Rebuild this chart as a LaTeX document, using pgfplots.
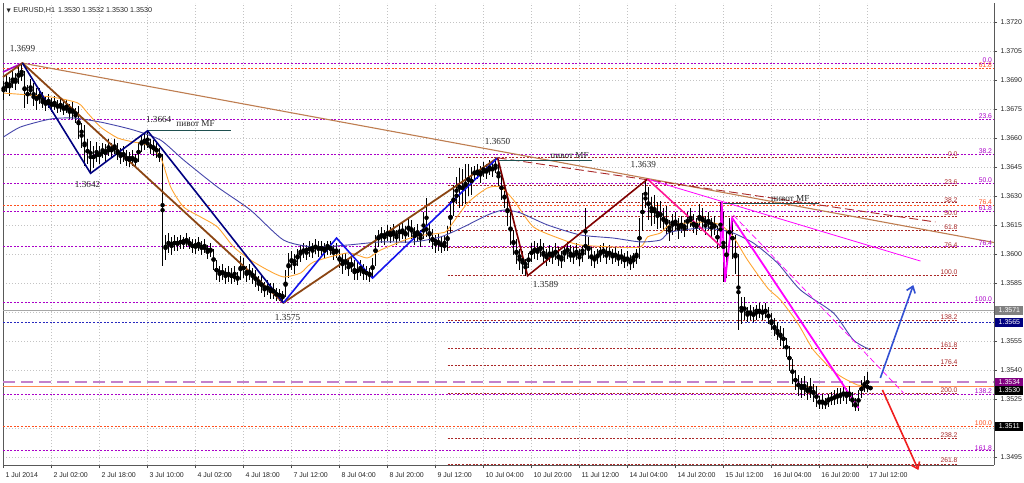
\documentclass[border=0pt]{standalone}
\usepackage{fontspec}
\setmainfont{Liberation Sans}
\newfontfamily\serifnum{Liberation Serif}
\newfontfamily\dejavu{DejaVu Sans}
\usepackage{pgfplots}
\pgfplotsset{compat=1.18}
\usepackage{pgfplotstable}
\usetikzlibrary{arrows.meta}

\definecolor{fibP}{RGB}{170,0,200}
\definecolor{fibO}{RGB}{255,80,30}
\definecolor{fibB}{RGB}{170,40,40}
\definecolor{zzBrown}{RGB}{139,69,19}
\definecolor{trendBrown}{RGB}{190,125,80}
\definecolor{zzNavy}{RGB}{0,0,128}
\definecolor{zzBlue}{RGB}{20,20,235}
\definecolor{zzMaroon}{RGB}{128,0,0}
\definecolor{zzPink}{RGB}{255,20,147}
\definecolor{mag}{RGB}{255,0,255}
\definecolor{maOrange}{RGB}{255,165,50}
\definecolor{maBlue}{RGB}{70,70,170}
\definecolor{pivot}{RGB}{30,80,80}
\definecolor{gridc}{RGB}{195,195,195}
\definecolor{dashPurple}{RGB}{195,130,205}
\definecolor{bidOrange}{RGB}{255,140,80}
\definecolor{arrBlue}{RGB}{50,80,210}
\definecolor{arrRed}{RGB}{240,30,30}
\definecolor{boxPurple}{RGB}{128,0,128}
\definecolor{dotBlue}{RGB}{40,40,190}

\pgfplotstableread{
x o h l c
0 1.3684 1.3690 1.3680 1.3688
1 1.3688 1.3693 1.3684 1.3686
2 1.3686 1.3692 1.3682 1.3690
3 1.3690 1.3695 1.3686 1.3689
4 1.3689 1.3694 1.3685 1.3692
5 1.3692 1.3697 1.3688 1.3694
6 1.3694 1.3699 1.3690 1.3692
7 1.3692 1.3695 1.3676 1.3680
8 1.3680 1.3688 1.3678 1.3686
9 1.3686 1.3691 1.3682 1.3684
10 1.3684 1.3689 1.3677 1.3679
11 1.3679 1.3686 1.3675 1.3683
12 1.3683 1.3686 1.3678 1.3680
13 1.3680 1.3684 1.3676 1.3678
14 1.3678 1.3682 1.3674 1.3680
15 1.3680 1.3683 1.3676 1.3677
16 1.3677 1.3681 1.3674 1.3679
17 1.3679 1.3682 1.3675 1.3676
18 1.3676 1.3680 1.3673 1.3678
19 1.3678 1.3681 1.3674 1.3675
20 1.3675 1.3679 1.3672 1.3677
21 1.3677 1.3680 1.3673 1.3674
22 1.3674 1.3678 1.3670 1.3676
23 1.3676 1.3679 1.3670 1.3672
24 1.3672 1.3676 1.3668 1.3674
25 1.3674 1.3677 1.3660 1.3662
26 1.3662 1.3668 1.3655 1.3665
27 1.3665 1.3667 1.3646 1.3650
28 1.3650 1.3660 1.3647 1.3657
29 1.3657 1.3659 1.3642 1.3648
30 1.3648 1.3656 1.3645 1.3653
31 1.3653 1.3658 1.3648 1.3650
32 1.3650 1.3656 1.3647 1.3654
33 1.3654 1.3658 1.3650 1.3652
34 1.3652 1.3657 1.3648 1.3655
35 1.3655 1.3660 1.3651 1.3653
36 1.3653 1.3658 1.3650 1.3656
37 1.3656 1.3660 1.3652 1.3654
38 1.3654 1.3658 1.3649 1.3651
39 1.3651 1.3655 1.3647 1.3653
40 1.3653 1.3656 1.3648 1.3650
41 1.3650 1.3654 1.3646 1.3649
42 1.3649 1.3653 1.3645 1.3651
43 1.3651 1.3654 1.3646 1.3648
44 1.3648 1.3652 1.3645 1.3650
45 1.3650 1.3658 1.3648 1.3656
46 1.3656 1.3662 1.3653 1.3660
47 1.3660 1.3663 1.3654 1.3658
48 1.3658 1.3664 1.3655 1.3657
49 1.3657 1.3660 1.3652 1.3655
50 1.3655 1.3659 1.3651 1.3656
51 1.3656 1.3658 1.3650 1.3652
52 1.3652 1.3655 1.3648 1.3650
53 1.3650 1.3652 1.3594 1.3601
54 1.3601 1.3610 1.3597 1.3607
55 1.3607 1.3611 1.3601 1.3604
56 1.3604 1.3609 1.3600 1.3607
57 1.3607 1.3610 1.3602 1.3605
58 1.3605 1.3609 1.3602 1.3607
59 1.3607 1.3610 1.3603 1.3606
60 1.3606 1.3609 1.3603 1.3608
61 1.3608 1.3611 1.3604 1.3606
62 1.3606 1.3609 1.3603 1.3605
63 1.3605 1.3608 1.3601 1.3604
64 1.3604 1.3608 1.3600 1.3606
65 1.3606 1.3609 1.3602 1.3603
66 1.3603 1.3607 1.3600 1.3605
67 1.3605 1.3608 1.3601 1.3602
68 1.3602 1.3605 1.3598 1.3603
69 1.3603 1.3606 1.3599 1.3601
70 1.3601 1.3603 1.3592 1.3594
71 1.3594 1.3597 1.3587 1.3590
72 1.3590 1.3594 1.3586 1.3592
73 1.3592 1.3595 1.3587 1.3589
74 1.3589 1.3593 1.3585 1.3591
75 1.3591 1.3594 1.3586 1.3588
76 1.3588 1.3593 1.3585 1.3590
77 1.3590 1.3594 1.3586 1.3587
78 1.3587 1.3591 1.3584 1.3589
79 1.3589 1.3599 1.3587 1.3596
80 1.3596 1.3598 1.3588 1.3590
81 1.3590 1.3594 1.3586 1.3592
82 1.3592 1.3595 1.3587 1.3589
83 1.3589 1.3593 1.3585 1.3590
84 1.3590 1.3592 1.3583 1.3585
85 1.3585 1.3589 1.3581 1.3587
86 1.3587 1.3589 1.3580 1.3582
87 1.3582 1.3586 1.3578 1.3584
88 1.3584 1.3587 1.3579 1.3581
89 1.3581 1.3585 1.3577 1.3583
90 1.3583 1.3585 1.3577 1.3579
91 1.3579 1.3583 1.3576 1.3580
92 1.3580 1.3582 1.3576 1.3578
93 1.3578 1.3581 1.3575 1.3579
94 1.3579 1.3592 1.3578 1.3590
95 1.3590 1.3601 1.3588 1.3598
96 1.3598 1.3602 1.3592 1.3595
97 1.3595 1.3600 1.3590 1.3598
98 1.3598 1.3603 1.3594 1.3600
99 1.3600 1.3605 1.3596 1.3603
100 1.3603 1.3606 1.3598 1.3601
101 1.3601 1.3605 1.3597 1.3604
102 1.3604 1.3607 1.3599 1.3602
103 1.3602 1.3606 1.3598 1.3605
104 1.3605 1.3608 1.3600 1.3603
105 1.3603 1.3607 1.3599 1.3604
106 1.3604 1.3607 1.3600 1.3602
107 1.3602 1.3606 1.3598 1.3604
108 1.3604 1.3607 1.3600 1.3605
109 1.3605 1.3607 1.3600 1.3601
110 1.3601 1.3605 1.3597 1.3603
111 1.3603 1.3606 1.3598 1.3600
112 1.3600 1.3603 1.3593 1.3595
113 1.3595 1.3600 1.3590 1.3598
114 1.3598 1.3601 1.3592 1.3594
115 1.3594 1.3598 1.3589 1.3596
116 1.3596 1.3599 1.3591 1.3593
117 1.3593 1.3597 1.3587 1.3589
118 1.3589 1.3596 1.3587 1.3594
119 1.3594 1.3597 1.3589 1.3591
120 1.3591 1.3595 1.3587 1.3592
121 1.3592 1.3594 1.3587 1.3589
122 1.3589 1.3593 1.3586 1.3591
123 1.3591 1.3598 1.3588 1.3596
124 1.3596 1.3610 1.3594 1.3608
125 1.3608 1.3613 1.3604 1.3610
126 1.3610 1.3614 1.3606 1.3609
127 1.3609 1.3613 1.3605 1.3611
128 1.3611 1.3615 1.3607 1.3610
129 1.3610 1.3614 1.3606 1.3612
130 1.3612 1.3616 1.3607 1.3609
131 1.3609 1.3613 1.3605 1.3611
132 1.3611 1.3616 1.3607 1.3613
133 1.3613 1.3617 1.3608 1.3610
134 1.3610 1.3615 1.3606 1.3612
135 1.3612 1.3619 1.3609 1.3615
136 1.3615 1.3618 1.3608 1.3610
137 1.3610 1.3614 1.3605 1.3612
138 1.3612 1.3616 1.3607 1.3609
139 1.3609 1.3613 1.3604 1.3611
140 1.3611 1.3622 1.3608 1.3614
141 1.3614 1.3629 1.3609 1.3612
142 1.3612 1.3616 1.3606 1.3609
143 1.3609 1.3613 1.3603 1.3606
144 1.3606 1.3610 1.3601 1.3608
145 1.3608 1.3611 1.3602 1.3604
146 1.3604 1.3609 1.3601 1.3606
147 1.3606 1.3610 1.3602 1.3603
148 1.3603 1.3615 1.3602 1.3613
149 1.3613 1.3628 1.3611 1.3625
150 1.3625 1.3636 1.3620 1.3632
151 1.3632 1.3640 1.3626 1.3629
152 1.3629 1.3645 1.3624 1.3641
153 1.3641 1.3644 1.3625 1.3628
154 1.3628 1.3647 1.3626 1.3644
155 1.3644 1.3647 1.3630 1.3634
156 1.3634 1.3645 1.3631 1.3642
157 1.3642 1.3646 1.3638 1.3643
158 1.3643 1.3647 1.3639 1.3641
159 1.3641 1.3646 1.3637 1.3644
160 1.3644 1.3648 1.3640 1.3642
161 1.3642 1.3647 1.3639 1.3645
162 1.3645 1.3649 1.3641 1.3643
163 1.3643 1.3648 1.3640 1.3646
164 1.3646 1.3650 1.3642 1.3644
165 1.3644 1.3649 1.3635 1.3637
166 1.3637 1.3641 1.3628 1.3632
167 1.3632 1.3636 1.3624 1.3627
168 1.3627 1.3631 1.3615 1.3618
169 1.3618 1.3622 1.3605 1.3608
170 1.3608 1.3613 1.3600 1.3604
171 1.3604 1.3608 1.3595 1.3598
172 1.3598 1.3603 1.3592 1.3600
173 1.3600 1.3602 1.3590 1.3594
174 1.3594 1.3598 1.3589 1.3596
175 1.3596 1.3601 1.3593 1.3599
176 1.3599 1.3606 1.3596 1.3603
177 1.3603 1.3607 1.3598 1.3601
178 1.3601 1.3606 1.3597 1.3604
179 1.3604 1.3608 1.3599 1.3602
180 1.3602 1.3606 1.3596 1.3598
181 1.3598 1.3603 1.3594 1.3601
182 1.3601 1.3605 1.3596 1.3599
183 1.3599 1.3604 1.3595 1.3602
184 1.3602 1.3606 1.3597 1.3600
185 1.3600 1.3604 1.3594 1.3597
186 1.3597 1.3602 1.3593 1.3600
187 1.3600 1.3605 1.3596 1.3603
188 1.3603 1.3607 1.3598 1.3601
189 1.3601 1.3605 1.3596 1.3598
190 1.3598 1.3604 1.3595 1.3602
191 1.3602 1.3606 1.3597 1.3599
192 1.3599 1.3603 1.3594 1.3601
193 1.3601 1.3605 1.3596 1.3603
194 1.3603 1.3624 1.3600 1.3606
195 1.3606 1.3609 1.3598 1.3600
196 1.3600 1.3604 1.3594 1.3597
197 1.3597 1.3602 1.3593 1.3599
198 1.3599 1.3603 1.3595 1.3600
199 1.3600 1.3605 1.3596 1.3603
200 1.3603 1.3606 1.3598 1.3600
201 1.3600 1.3604 1.3595 1.3602
202 1.3602 1.3605 1.3597 1.3599
203 1.3599 1.3603 1.3595 1.3601
204 1.3601 1.3604 1.3596 1.3598
205 1.3598 1.3602 1.3594 1.3600
206 1.3600 1.3603 1.3595 1.3597
207 1.3597 1.3601 1.3593 1.3599
208 1.3599 1.3602 1.3594 1.3596
209 1.3596 1.3600 1.3592 1.3598
210 1.3598 1.3601 1.3593 1.3599
211 1.3599 1.3603 1.3595 1.3601
212 1.3601 1.3619 1.3598 1.3616
213 1.3616 1.3632 1.3612 1.3628
214 1.3628 1.3639 1.3624 1.3630
215 1.3630 1.3635 1.3618 1.3622
216 1.3622 1.3630 1.3615 1.3626
217 1.3626 1.3631 1.3616 1.3619
218 1.3619 1.3627 1.3613 1.3624
219 1.3624 1.3628 1.3614 1.3617
220 1.3617 1.3624 1.3612 1.3620
221 1.3620 1.3625 1.3610 1.3613
222 1.3613 1.3618 1.3607 1.3615
223 1.3615 1.3621 1.3610 1.3618
224 1.3618 1.3622 1.3612 1.3614
225 1.3614 1.3619 1.3608 1.3616
226 1.3616 1.3620 1.3611 1.3613
227 1.3613 1.3618 1.3609 1.3616
228 1.3616 1.3622 1.3612 1.3619
229 1.3619 1.3624 1.3614 1.3617
230 1.3617 1.3621 1.3611 1.3614
231 1.3614 1.3619 1.3610 1.3617
232 1.3617 1.3626 1.3613 1.3620
233 1.3620 1.3624 1.3613 1.3616
234 1.3616 1.3620 1.3610 1.3618
235 1.3618 1.3622 1.3613 1.3615
236 1.3615 1.3619 1.3609 1.3617
237 1.3617 1.3620 1.3610 1.3612
238 1.3612 1.3615 1.3603 1.3606
239 1.3606 1.3627 1.3604 1.3620
240 1.3620 1.3622 1.3586 1.3592
241 1.3592 1.3612 1.3588 1.3608
242 1.3608 1.3619 1.3604 1.3615
243 1.3615 1.3619 1.3598 1.3602
244 1.3602 1.3610 1.3590 1.3596
245 1.3596 1.3600 1.3561 1.3570
246 1.3570 1.3578 1.3564 1.3575
247 1.3575 1.3578 1.3566 1.3569
248 1.3569 1.3573 1.3565 1.3571
249 1.3571 1.3574 1.3566 1.3568
250 1.3568 1.3573 1.3565 1.3570
251 1.3570 1.3574 1.3566 1.3572
252 1.3572 1.3575 1.3567 1.3569
253 1.3569 1.3574 1.3566 1.3571
254 1.3571 1.3575 1.3567 1.3570
255 1.3570 1.3573 1.3564 1.3566
256 1.3566 1.3570 1.3561 1.3563
257 1.3563 1.3567 1.3558 1.3561
258 1.3561 1.3565 1.3556 1.3558
259 1.3558 1.3563 1.3553 1.3559
260 1.3559 1.3562 1.3551 1.3554
261 1.3554 1.3557 1.3547 1.3550
262 1.3550 1.3553 1.3540 1.3543
263 1.3543 1.3546 1.3533 1.3536
264 1.3536 1.3540 1.3530 1.3534
265 1.3534 1.3538 1.3527 1.3531
266 1.3531 1.3536 1.3526 1.3533
267 1.3533 1.3537 1.3527 1.3529
268 1.3529 1.3534 1.3525 1.3531
269 1.3531 1.3536 1.3526 1.3528
270 1.3528 1.3533 1.3524 1.3530
271 1.3530 1.3532 1.3521 1.3523
272 1.3523 1.3527 1.3520 1.3525
273 1.3525 1.3528 1.3520 1.3522
274 1.3522 1.3526 1.3520 1.3524
275 1.3524 1.3528 1.3521 1.3526
276 1.3526 1.3529 1.3522 1.3525
277 1.3525 1.3530 1.3522 1.3527
278 1.3527 1.3531 1.3523 1.3526
279 1.3526 1.3531 1.3523 1.3529
280 1.3529 1.3532 1.3524 1.3527
281 1.3527 1.3531 1.3523 1.3529
282 1.3529 1.3532 1.3524 1.3526
283 1.3526 1.3529 1.3521 1.3523
284 1.3523 1.3526 1.3519 1.3521
285 1.3521 1.3530 1.3519 1.3528
286 1.3528 1.3535 1.3526 1.3533
287 1.3533 1.3537 1.3529 1.3531
288 1.3531 1.3539 1.3529 1.3532
289 1.3532 1.3532 1.3530 1.3530
}\candles

\newcommand{\lvl}[4]{\addplot[#1] coordinates {(#2,#4) (#3,#4)};}
\newcommand{\fsm}{\fontsize{7}{8}\selectfont}
\newcommand{\ffib}{\fontsize{6.8}{7.5}\selectfont}
\newcommand{\fser}{\serifnum\fontsize{9.2}{10}\selectfont}

\begin{document}
\begin{tikzpicture}
\useasboundingbox (0,0) rectangle (1024pt,482pt);
\begin{axis}[
  at={(3pt,17pt)}, anchor=south west,
  width=991pt, height=462pt, scale only axis,
  xmin=-0.2, xmax=330.2, ymin=1.34911, ymax=1.37301,
  axis x line*=bottom, axis y line*=right,
  axis line style={black!65, line width=0.8pt},
  xtick={0,16,...,288},
  xticklabels={1 Jul 2014,2 Jul 02:00,2 Jul 18:00,3 Jul 10:00,4 Jul 02:00,4 Jul 18:00,7 Jul 12:00,8 Jul 04:00,8 Jul 20:00,9 Jul 12:00,10 Jul 04:00,10 Jul 20:00,11 Jul 12:00,14 Jul 04:00,14 Jul 20:00,15 Jul 12:00,16 Jul 04:00,16 Jul 20:00,17 Jul 12:00},
  ytick={1.3495,1.3510,1.3525,1.3540,1.3555,1.3570,1.3585,1.3600,1.3615,1.3630,1.3645,1.3660,1.3675,1.3690,1.3705,1.3720},
  yticklabels={1.3495,,1.3525,1.3540,1.3555,,1.3585,1.3600,1.3615,1.3630,1.3645,1.3660,1.3675,1.3690,1.3705,1.3720},
  tick align=outside, major tick length=3pt,
  tick style={black!70, line width=0.6pt},
  xticklabel style={anchor=north west, xshift=-1.5pt, yshift=-0.5pt, font=\fsm, text=black!85},
  yticklabel style={anchor=west, xshift=0pt, font=\fsm, text=black!85},
  grid=major, grid style={gridc, dash pattern=on 1pt off 2pt, line width=0.6pt},
  clip=false,
]
% left frame
\draw[black!65, line width=0.8pt] (rel axis cs:0,0) -- (rel axis cs:0,1);

% --- purple fib (full width)
\pgfplotsinvokeforeach{1.3699,1.36697,1.36516,1.3637,1.36224,1.36043,1.3575,1.35276,1.34984}{
  \lvl{fibP, line width=0.9pt, dash pattern=on 2pt off 1.6pt}{-0.2}{330.2}{#1}
}
% --- orange fib (full width)
\pgfplotsinvokeforeach{1.36963,1.36255,1.3511}{
  \lvl{fibO, line width=0.9pt, dash pattern=on 2pt off 1.6pt}{-0.2}{330.2}{#1}
}
% --- brown fib
\pgfplotsinvokeforeach{1.3650,1.36356,1.36267,1.36195,1.36123,1.36034,1.3589,1.35657,1.35513,1.35424,1.3528,1.35047,1.34912}{
  \lvl{fibB, line width=0.9pt, dash pattern=on 2pt off 1.6pt}{148}{318.3}{#1}
}
% special horizontal lines
\lvl{black!35, line width=1.6pt}{-0.2}{330.2}{1.3571}
\lvl{dotBlue, line width=0.9pt, dash pattern=on 2pt off 1.6pt}{-0.2}{330.2}{1.3565}
\lvl{dashPurple, line width=1.4pt, dash pattern=on 12pt off 6pt}{-0.2}{330.2}{1.3534}
\lvl{bidOrange, line width=0.9pt}{-0.2}{330.2}{1.35316}

% --- candles
\addplot[only marks, mark=none, error bars/.cd, y dir=both, y explicit, error mark=none,
  error bar style={black, line width=0.7pt}]
  table[x=x, y expr={(\thisrow{h}+\thisrow{l})/2}, y error expr={(\thisrow{h}-\thisrow{l})/2}] {\candles};
\addplot[only marks, mark=none, error bars/.cd, y dir=both, y explicit, error mark=none,
  error bar style={black, line width=1.6pt}]
  table[x=x, y expr={(\thisrow{o}+\thisrow{c})/2}, y error expr={abs(\thisrow{c}-\thisrow{o})/2+0.00001}] {\candles};

% --- moving averages
\addplot[maOrange, line width=0.9pt, smooth, tension=0.4] coordinates {
(0,1.36835) (15.7,1.36815) (24.7,1.36784) (28,1.36732) (32.3,1.36660) (38,1.36603) (43.3,1.36582) (48,1.36566) (52.3,1.36504) (55.7,1.36349) (60,1.36246) (65.7,1.36194) (71.3,1.36142) (76.7,1.36039) (82.3,1.35972) (88,1.35920) (93.3,1.35884) (99,1.35904) (103.3,1.35961) (114.7,1.36008) (121.3,1.35982) (125.7,1.36023) (136.7,1.36091) (145.7,1.36111) (148,1.36127) (154.7,1.36266) (161.3,1.36344) (165.7,1.36349) (170,1.36282) (176.7,1.36142) (186.7,1.36075) (192.3,1.36049) (203.3,1.36039) (212.3,1.36039) (214.7,1.36091) (219,1.36111) (222.3,1.36153) (233.3,1.36168) (239,1.36153) (243.3,1.36091) (248,1.35972) (254.7,1.35827) (259,1.35765) (264.7,1.35646) (270,1.35506) (276.7,1.35397) (280,1.35361) (284.7,1.35325) (289,1.35315)};
\addplot[maBlue, line width=0.9pt, smooth, tension=0.4] coordinates {
(0,1.36608) (5.7,1.36660) (15.7,1.36701) (23.3,1.36706) (32.3,1.36685) (43.3,1.36644) (52.3,1.36592) (60,1.36489) (71.3,1.36349) (82.3,1.36230) (93.3,1.36075) (103.3,1.36039) (114.7,1.36049) (125.7,1.36065) (136.7,1.36065) (145.7,1.36091) (153.3,1.36142) (161.3,1.36204) (166.7,1.36230) (172.3,1.36215) (181.3,1.36153) (192.3,1.36101) (203.3,1.36085) (212.3,1.36065) (219,1.36075) (222.3,1.36116) (233.3,1.36137) (242.3,1.36116) (250,1.36059) (258,1.35956) (265.7,1.35816) (276.7,1.35697) (283.3,1.35558) (289,1.35506)};

% --- trend lines
\addplot[trendBrown, line width=1.1pt] coordinates {(6.3,1.3699) (330.2,1.36062)};
\addplot[fibB, line width=0.9pt, dash pattern=on 9pt off 4pt] coordinates {(164.7,1.3650) (310.7,1.36168)};
\addplot[mag, line width=0.8pt] coordinates {(214.7,1.3639) (305.7,1.35966)};
\addplot[mag, line width=0.7pt, dash pattern=on 6pt off 3pt] coordinates {(243.3,1.36204) (300,1.35284)};

% --- pivot lines
\addplot[pivot, line width=1pt] coordinates {(48,1.3664) (75.7,1.3664)};
\addplot[pivot, line width=1pt] coordinates {(164.7,1.36484) (196.3,1.36484)};
\addplot[pivot, line width=1pt] coordinates {(239.7,1.36266) (271.7,1.36266)};

% --- zigzags
\addplot[fibP, line width=1.6pt] coordinates {(-0.2,1.36944) (6.3,1.3699)};
\addplot[zzBrown, line width=1.8pt] coordinates {(-0.2,1.36918) (6.3,1.3699) (93.3,1.3575) (164.7,1.3650)};
\addplot[zzNavy, line width=1.6pt] coordinates {(6.3,1.3699) (29,1.3642) (48,1.3664) (93.3,1.3575)};
\addplot[zzBlue, line width=1.6pt] coordinates {(93.3,1.3575) (111,1.36085) (123,1.35878) (164.7,1.3650)};
\addplot[zzMaroon, line width=1.6pt] coordinates {(164.7,1.3650) (174.7,1.3589) (214.7,1.3639)};
\addplot[zzPink, line width=1.6pt] coordinates {(214.7,1.3639) (239,1.36044)};
\addplot[mag, line width=1.8pt] coordinates {(239,1.36044) (239.4,1.36272) (240.5,1.35858) (242.9,1.36189) (285,1.35206)};

% --- arrows
\addplot[arrBlue, line width=1.6pt, -{Straight Barb[length=6pt,width=9pt]}] coordinates {(292.3,1.35361) (303.3,1.35842)};
\addplot[arrRed, line width=1.6pt, -{Straight Barb[length=6pt,width=9pt]}] coordinates {(293,1.35299) (305,1.34885)};

% --- fib labels
\begin{scope}[every node/.style={font=\ffib, inner sep=0.6pt, anchor=south east}]
\node[text=fibP] at (axis cs:329.8,1.3699) {0.0};
\node[text=fibP] at (axis cs:329.8,1.36697) {23.6};
\node[text=fibP] at (axis cs:329.8,1.36516) {38.2};
\node[text=fibP] at (axis cs:329.8,1.3637) {50.0};
\node[text=fibP] at (axis cs:329.8,1.36224) {61.8};
\node[text=fibP] at (axis cs:329.8,1.36043) {76.4};
\node[text=fibP] at (axis cs:329.8,1.3575) {100.0};
\node[text=fibP] at (axis cs:329.8,1.35276) {138.2};
\node[text=fibP] at (axis cs:329.8,1.34984) {161.8};
\node[text=fibO] at (axis cs:329.8,1.36963) {61.8};
\node[text=fibO] at (axis cs:329.8,1.36255) {76.4};
\node[text=fibO] at (axis cs:329.8,1.3511) {100.0};
\node[text=fibB] at (axis cs:318.3,1.3650) {0.0};
\node[text=fibB] at (axis cs:318.3,1.36356) {23.6};
\node[text=fibB] at (axis cs:318.3,1.36267) {38.2};
\node[text=fibB] at (axis cs:318.3,1.36195) {50.0};
\node[text=fibB] at (axis cs:318.3,1.36123) {61.8};
\node[text=fibB] at (axis cs:318.3,1.36034) {76.4};
\node[text=fibB] at (axis cs:318.3,1.3589) {100.0};
\node[text=fibB] at (axis cs:318.3,1.35657) {138.2};
\node[text=fibB] at (axis cs:318.3,1.35513) {161.8};
\node[text=fibB] at (axis cs:318.3,1.35424) {176.4};
\node[text=fibB] at (axis cs:318.3,1.3528) {200.0};
\node[text=fibB] at (axis cs:318.3,1.35047) {238.2};
\node[text=fibB] at (axis cs:318.3,1.34918) {261.8};
\end{scope}

% --- swing labels
\begin{scope}[every node/.style={font=\fser, text=black!85, inner sep=0pt}]
\node at (axis cs:6.3,1.37063) {1.3699};
\node at (axis cs:51.7,1.36696) {1.3664};
\node at (axis cs:28,1.36360) {1.3642};
\node at (axis cs:94.7,1.35672) {1.3575};
\node at (axis cs:164.7,1.36582) {1.3650};
\node at (axis cs:180.7,1.35847) {1.3589};
\node at (axis cs:213.3,1.36463) {1.3639};
\node at (axis cs:64,1.36675) {пивот MF};
\node at (axis cs:188.7,1.36512) {пивот MF};
\node at (axis cs:262.3,1.36292) {пивот MF};
\end{scope}

% --- price boxes
\begin{scope}[every node/.style={font=\fsm, text=white, inner sep=0.8pt, anchor=west, minimum width=28pt, minimum height=9pt, align=center}]
\node[fill=black!50] at (axis cs:330.6,1.3571) {1.3571};
\node[fill=zzNavy] at (axis cs:330.6,1.3565) {1.3565};
\node[fill=boxPurple] at (axis cs:330.6,1.3534) {1.3534};
\node[fill=black] at (axis cs:330.6,1.35298) {1.3530};
\node[fill=black] at (axis cs:330.6,1.3511) {1.3511};
\end{scope}

% --- header
\node[anchor=north west, font=\fontsize{7.2}{8}\selectfont, text=black!85, inner sep=0pt] at (rel axis cs:0,1) [xshift=3.5pt, yshift=-4pt] {{\dejavu\fontsize{5.5}{6}\selectfont ▼}\hspace{2.5pt}EURUSD,H1\hspace{3pt}1.3530 1.3532 1.3530 1.3530};
\end{axis}
\end{tikzpicture}
\end{document}
